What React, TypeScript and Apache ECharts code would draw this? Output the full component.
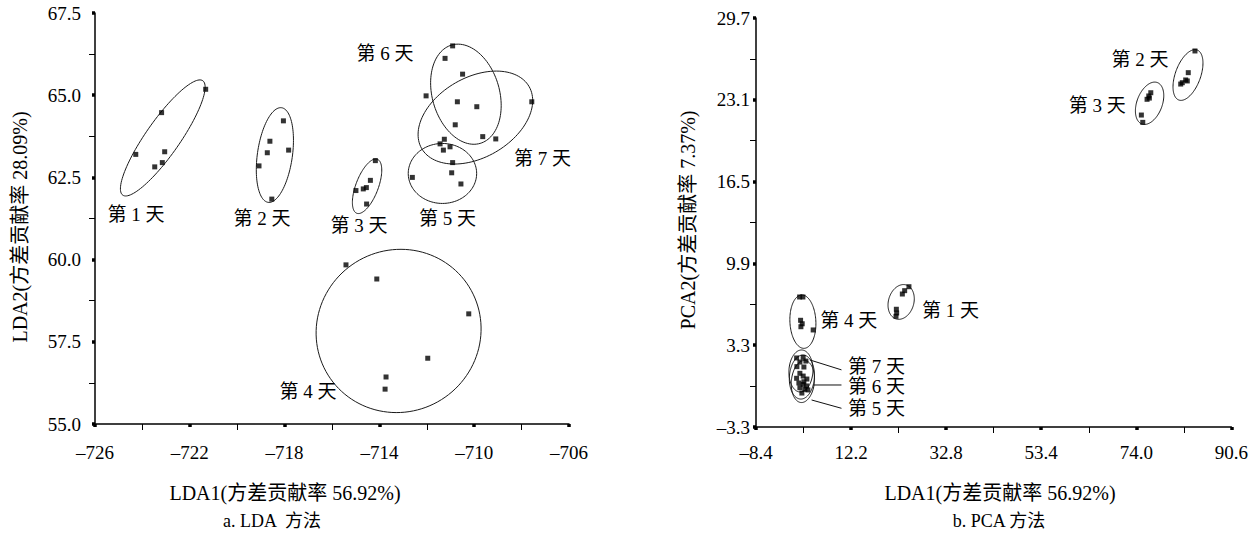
import React, { useEffect, useRef } from "react";
import * as echarts from "echarts";

// ---------- tick values ----------
const ldaXTicks = [-726, -722, -718, -714, -710, -706];
const ldaYTicks = [55.0, 57.5, 60.0, 62.5, 65.0, 67.5];
const pcaXTicks = [-8.4, 12.2, 32.8, 53.4, 74.0, 94.6];
const pcaXTickLabels = ["–8.4", "12.2", "32.8", "53.4", "74.0", "90.6"];
const pcaYTicks = [-3.3, 3.3, 9.9, 16.5, 23.1, 29.7];

const dayNames = ["第 1 天", "第 2 天", "第 3 天", "第 4 天", "第 5 天", "第 6 天", "第 7 天"];

// ---------- LDA scores ----------
const ldaDay1 = [[-724.28, 63.2], [-723.19, 64.47], [-721.33, 65.18], [-723.06, 63.28], [-723.16, 62.95], [-723.48, 62.82]];
const ldaDay2 = [[-718.05, 64.22], [-718.62, 63.6], [-718.73, 63.25], [-717.83, 63.33], [-719.08, 62.85], [-718.54, 61.84]];
const ldaDay3 = [[-714.17, 63.01], [-714.38, 62.41], [-714.55, 62.19], [-714.68, 62.15], [-714.99, 62.1], [-714.54, 61.69]];
const ldaDay4 = [[-715.41, 59.84], [-714.11, 59.41], [-710.23, 58.35], [-711.96, 57.0], [-713.72, 56.43], [-713.76, 56.06]];
const ldaDay5 = [[-711.44, 63.52], [-711.3, 63.33], [-710.91, 62.95], [-710.95, 62.64], [-710.56, 62.3], [-712.61, 62.5]];
const ldaDay6 = [[-710.91, 66.5], [-711.23, 66.12], [-710.49, 65.64], [-712.03, 64.98], [-710.71, 64.8], [-710.8, 64.1]];
const ldaDay7 = [[-709.89, 64.65], [-707.57, 64.8], [-709.64, 63.74], [-709.09, 63.67], [-711.26, 63.66], [-711.02, 63.43]];

// confidence ellipses: [cx, cy, ux, uy, vx, vy] (centre + two conjugate half-axes, data units)
const ldaEllipses = [
  [-723.14, 63.7, 1.688, 1.74, 0.588, -0.296],
  [-718.41, 63.18, 0.283, 1.439, 0.731, -0.0745],
  [-714.52, 62.23, 0.435, 0.821, 0.441, -0.121],
  [-713.19, 57.83, 3.48, 0.12, -0.08, 2.48],
  [-711.34, 62.62, 1.443, 0, 0, 0.912],
  [-710.35, 65.03, 0.599, -1.496, 1.363, 0.283],
  [-709.95, 64.32, 2.266, 0.943, 0.844, -1.053],
];
const ldaLabelPos = [
  [-724.27, 61.36], [-718.95, 61.26], [-714.86, 61.05], [-717.01, 55.98],
  [-711.13, 61.26], [-713.76, 66.27], [-707.12, 63.08],
];

// ---------- PCA scores ----------
const pcaDay1 = [[24.74, 8.02], [23.81, 7.7], [23.31, 7.43], [22.01, 6.2], [22.08, 5.9], [21.93, 5.63]];
const pcaDay2 = [[86.71, 27.04], [85.26, 25.29], [84.7, 24.7], [83.97, 24.48], [85.05, 24.62], [83.62, 24.37]];
const pcaDay3 = [[77.14, 23.67], [76.7, 23.41], [76.33, 23.14], [76.83, 23.24], [75.1, 21.87], [75.4, 21.28]];
const pcaDay4 = [[1.05, 7.19], [1.76, 7.19], [1.26, 5.31], [1.61, 5.03], [1.33, 4.79], [3.99, 4.53]];
const pcaDay5 = [[1.82, 0.14], [2.56, 0.01], [1.11, -0.13], [2.19, -0.26], [2.84, -0.31], [1.54, -0.56]];
const pcaDay6 = [[1.11, 1.03], [0.4, 0.63], [1.82, 0.81], [2.62, 0.57], [0.89, 0.25], [1.98, 0.35]];
const pcaDay7 = [[0.4, 2.27], [1.82, 2.32], [1.11, 1.94], [2.41, 2.02], [0.46, 1.57], [1.98, 1.54]];

const pcaEllipses = [
  [23.05, 6.79, 1.081, 1.372, 2.633, -0.289],
  [85.2, 25.1, 1.989, 2.017, 2.565, -0.352],
  [76.88, 22.82, 1.686, 1.67, 2.57, -0.361],
  [1.76, 5.2, -0.281, 2.154, 2.808, 0.052],
  [1.76, 0.37, 0.432, 1.694, 2.486, -0.089],
  [1.54, 0.73, 0.324, 1.775, 2.702, -0.069],
  [1.33, 1.22, 0.216, 1.694, 2.594, -0.048],
];
const pcaLabelPos = [
  [33.75, 6.14], [74.82, 26.37], [65.53, 22.68], [11.7, 5.33],
  [17.69, -1.79], [17.69, -0.05], [17.69, 1.57],
];
// leader lines for 第5/6/7天: [x1, y1, x2, y2]
const pcaLeaders = [
  [3.64, -1.12, 10.12, -1.79],
  [3.99, 0.09, 10.12, 0.09],
  [3.27, 2.11, 10.12, 1.31],
];

const ldaDays = [ldaDay1, ldaDay2, ldaDay3, ldaDay4, ldaDay5, ldaDay6, ldaDay7];
const pcaDays = [pcaDay1, pcaDay2, pcaDay3, pcaDay4, pcaDay5, pcaDay6, pcaDay7];

const SERIF = '"Liberation Serif", "Times New Roman", "Noto Sans CJK SC", serif';
const LABEL_FONT = `19px ${SERIF}`;

const mids = (t: number[]) => t.slice(0, -1).map((v, i) => (v + t[i + 1]) / 2);
const dash = (s: string) => s.replace("-", "–");

function ellipseRender(_params: any, api: any) {
  const cx = api.value(0), cy = api.value(1);
  const ux = api.value(2), uy = api.value(3);
  const vx = api.value(4), vy = api.value(5);
  const pts: number[][] = [];
  const n = 120;
  for (let i = 0; i < n; i++) {
    const t = (i / n) * Math.PI * 2;
    const c = Math.cos(t), s = Math.sin(t);
    pts.push(api.coord([cx + ux * c + vx * s, cy + uy * c + vy * s]));
  }
  return {
    type: "polygon",
    shape: { points: pts },
    style: { fill: "none", stroke: "#1a1a1a", lineWidth: 1 },
  };
}

function labelRender(params: any, api: any) {
  const p = api.coord([api.value(0), api.value(1)]);
  return {
    type: "text",
    x: p[0],
    y: p[1],
    style: {
      text: dayNames[params.dataIndex],
      font: LABEL_FONT,
      fill: "#000",
      textAlign: "center",
      textVerticalAlign: "middle",
      align: "center",
      verticalAlign: "middle",
    },
  };
}

function leaderRender(_params: any, api: any) {
  const a = api.coord([api.value(0), api.value(1)]);
  const b = api.coord([api.value(2), api.value(3)]);
  return {
    type: "line",
    shape: { x1: a[0], y1: a[1], x2: b[0], y2: b[1] },
    style: { stroke: "#111", lineWidth: 1 },
  };
}

function mainAxis(gridIndex: number, position: string, ticks: number[], fmt: (v: number) => string, margin: number) {
  return {
    type: "value",
    gridIndex,
    position,
    min: ticks[0],
    max: ticks[ticks.length - 1],
    offset: 0,
    axisLine: { show: true, onZero: false, lineStyle: { color: "#000", width: 1.5 } },
    axisTick: { show: true, customValues: ticks, length: 3, lineStyle: { color: "#000", width: 3.5 } },
    axisLabel: {
      show: true,
      customValues: ticks,
      formatter: fmt,
      margin,
      color: "#000",
      fontSize: 19,
      fontFamily: SERIF,
    },
    splitLine: { show: false },
  };
}

function minorAxis(gridIndex: number, position: string, ticks: number[]) {
  return {
    type: "value",
    gridIndex,
    position,
    min: ticks[0],
    max: ticks[ticks.length - 1],
    offset: 0,
    axisLine: { show: false, onZero: false },
    axisTick: { show: true, customValues: mids(ticks), length: 6, lineStyle: { color: "#000", width: 1 } },
    axisLabel: { show: false },
    splitLine: { show: false },
  };
}

export default function App() {
  const ref = useRef<HTMLDivElement>(null);

  useEffect(() => {
    if (!ref.current) return;
    const chart = echarts.init(ref.current, undefined, { renderer: "svg" });

    const series: any[] = [];
    ldaDays.forEach((d) =>
      series.push({
        type: "scatter",
        xAxisIndex: 0,
        yAxisIndex: 0,
        data: d,
        symbol: "rect",
        symbolSize: 5,
        itemStyle: { color: "#000" },
        silent: true,
      })
    );
    pcaDays.forEach((d) =>
      series.push({
        type: "scatter",
        xAxisIndex: 2,
        yAxisIndex: 2,
        data: d,
        symbol: "rect",
        symbolSize: 5,
        itemStyle: { color: "#000" },
        silent: true,
      })
    );
    series.push(
      { type: "custom", xAxisIndex: 0, yAxisIndex: 0, data: ldaEllipses, renderItem: ellipseRender, silent: true },
      { type: "custom", xAxisIndex: 2, yAxisIndex: 2, data: pcaEllipses, renderItem: ellipseRender, silent: true },
      { type: "custom", xAxisIndex: 0, yAxisIndex: 0, data: ldaLabelPos, renderItem: labelRender, silent: true },
      { type: "custom", xAxisIndex: 2, yAxisIndex: 2, data: pcaLabelPos, renderItem: labelRender, silent: true },
      { type: "custom", xAxisIndex: 2, yAxisIndex: 2, data: pcaLeaders, renderItem: leaderRender, silent: true }
    );

    const titleStyle = (text: string, size: number) => ({
      text,
      font: `${size}px ${SERIF}`,
      fill: "#000",
      textAlign: "center",
      textVerticalAlign: "middle",
      align: "center",
      verticalAlign: "middle",
    });

    chart.setOption({
      animation: false,
      backgroundColor: "#fff",
      grid: [
        { left: 95, top: 13, width: 474, height: 411 },
        { left: 756, top: 18, width: 477, height: 409 },
      ],
      xAxis: [
        mainAxis(0, "bottom", ldaXTicks, (v: number) => dash(String(v)), 19),
        minorAxis(0, "bottom", ldaXTicks),
        mainAxis(1, "bottom", pcaXTicks, (v: number) => {
          const i = pcaXTicks.findIndex((t) => Math.abs(t - v) < 1e-6);
          return i >= 0 ? pcaXTickLabels[i] : "";
        }, 16),
        minorAxis(1, "bottom", pcaXTicks),
      ],
      yAxis: [
        mainAxis(0, "left", ldaYTicks, (v: number) => v.toFixed(1), 14),
        minorAxis(0, "left", ldaYTicks),
        mainAxis(1, "left", pcaYTicks, (v: number) => dash(v.toFixed(1)), 6),
        minorAxis(1, "left", pcaYTicks),
      ],
      graphic: [
        { type: "text", x: 285, y: 493, style: titleStyle("LDA1(方差贡献率 56.92%)", 20) },
        { type: "text", x: 272, y: 521, style: titleStyle("a. LDA  方法", 18) },
        { type: "text", x: 1000, y: 493, style: titleStyle("LDA1(方差贡献率 56.92%)", 20) },
        { type: "text", x: 999, y: 521, style: titleStyle("b. PCA 方法", 18) },
        { type: "text", x: 20, y: 227, rotation: Math.PI / 2, style: titleStyle("LDA2(方差贡献率 28.09%)", 20) },
        { type: "text", x: 688, y: 220, rotation: Math.PI / 2, style: titleStyle("PCA2(方差贡献率 7.37%)", 20) },
      ],
      series,
    });

    return () => chart.dispose();
  }, []);

  return (
    <div
      ref={ref}
      style={{ position: "fixed", left: 0, top: 0, width: 1251, height: 543, background: "#fff" }}
    />
  );
}
